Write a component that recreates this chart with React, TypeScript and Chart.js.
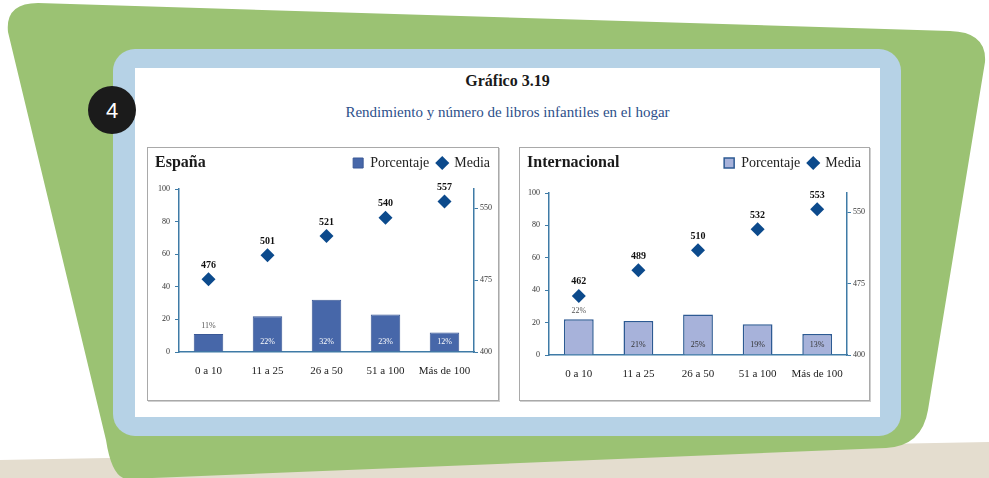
import React, { useEffect, useRef } from 'react';
import { Chart, registerables } from 'chart.js';

Chart.register(...registerables);

// ---- data ----
const categories = ['0 a 10', '11 a 25', '26 a 50', '51 a 100', 'Más de 100'];
const espanaPorcentaje = [11, 22, 32, 23, 12];
const espanaMedia = [476, 501, 521, 540, 557];
const internacionalPorcentaje = [22, 21, 25, 19, 13];
const internacionalMedia = [462, 489, 510, 532, 553];
const porcentajeTicks = [0, 20, 40, 60, 80, 100];
const mediaTicks = [400, 475, 550];
const porcentajeRange = [0, 100];
const mediaRange = [400, 570];
const seriesNames = ['Porcentaje', 'Media'];

const AXIS = '#3f7ba6';
const MARKER = '#0c4a8c';
const SERIF = "'Liberation Serif', 'Times New Roman', serif";

const valueLabels = {
  id: 'valueLabels',
  afterDatasetsDraw(chart: any, _args: any, opts: any) {
    const ctx = chart.ctx;
    ctx.save();
    ctx.textAlign = 'center';
    ctx.textBaseline = 'middle';
    const barMeta = chart.getDatasetMeta(0);
    const barData = chart.data.datasets[0].data;
    ctx.font = `8px ${SERIF}`;
    barMeta.data.forEach((el: any, i: number) => {
      const { x, y, base } = el.getProps(['x', 'y', 'base'], true);
      const outside = i === 0;
      ctx.fillStyle = outside ? '#555' : opts.insideColor;
      ctx.fillText(`${barData[i]}%`, x, outside ? y - 8 : base - 10);
    });
    const lineMeta = chart.getDatasetMeta(1);
    const lineData = chart.data.datasets[1].data;
    ctx.font = `bold 10px ${SERIF}`;
    ctx.fillStyle = '#111';
    lineMeta.data.forEach((el: any, i: number) => {
      ctx.fillText(String(lineData[i]), el.x, el.y - 14);
    });
    ctx.restore();
  },
};

type PanelProps = {
  left: number;
  width: number;
  title: string;
  pct: number[];
  media: number[];
  barColor: string;
  barBorder: string;
  barBorderWidth: number;
  insideColor: string;
  leftW: number;
  rightW: number;
  gapH: number;
  xH: number;
};

const PANEL_TOP = 147;
const PANEL_INNER_H = 252;

function ChartPanel(p: PanelProps) {
  const ref = useRef<HTMLCanvasElement>(null);
  const innerW = p.width - 2;
  useEffect(() => {
    const chart = new Chart(ref.current as HTMLCanvasElement, {
      type: 'bar',
      data: {
        labels: categories,
        datasets: [
          {
            type: 'bar',
            label: seriesNames[0],
            data: p.pct,
            backgroundColor: p.barColor,
            borderColor: p.barBorder,
            borderWidth: p.barBorderWidth,
            barPercentage: 0.5,
            categoryPercentage: 1,
            yAxisID: 'y',
            xAxisID: 'x',
            pointStyle: 'rect',
          } as any,
          {
            type: 'line',
            label: seriesNames[1],
            data: p.media,
            showLine: false,
            pointStyle: 'rectRot',
            pointRadius: 7,
            pointHoverRadius: 7,
            backgroundColor: MARKER,
            borderColor: MARKER,
            pointBackgroundColor: MARKER,
            pointBorderColor: MARKER,
            pointBorderWidth: 0,
            yAxisID: 'y2',
            xAxisID: 'x',
          } as any,
        ],
      },
      options: {
        responsive: false,
        animation: false,
        devicePixelRatio: 1,
        layout: { padding: 0 },
        events: [],
        plugins: {
          legend: {
            position: 'top',
            align: 'end',
            labels: {
              usePointStyle: true,
              boxWidth: 10,
              boxHeight: 10,
              padding: 8,
              color: '#222',
              font: { family: SERIF, size: 14 },
            },
          },
          tooltip: { enabled: false },
          valueLabels: { insideColor: p.insideColor },
        } as any,
        scales: {
          x: {
            type: 'category',
            position: 'bottom',
            offset: true,
            grid: { display: false, drawTicks: false },
            border: { display: true, color: AXIS, width: 1.5 },
            ticks: {
              font: { family: SERIF, size: 11 },
              color: '#222',
              padding: 13,
              maxRotation: 0,
              autoSkip: false,
            },
            afterFit: (s: any) => {
              s.height = p.xH;
            },
          },
          gap: {
            type: 'category',
            axis: 'x',
            position: 'top',
            display: true,
            grid: { display: false, drawTicks: false },
            border: { display: false },
            ticks: { display: false },
            afterFit: (s: any) => {
              s.height = p.gapH;
            },
          } as any,
          y: {
            type: 'linear',
            position: 'left',
            min: porcentajeRange[0],
            max: porcentajeRange[1],
            afterBuildTicks: (s: any) => {
              s.ticks = porcentajeTicks.map((v) => ({ value: v }));
            },
            grid: { drawOnChartArea: false, drawTicks: true, tickLength: 4, color: AXIS, lineWidth: 1 },
            border: { color: AXIS, width: 1.5 },
            ticks: { font: { family: SERIF, size: 8 }, color: '#333', padding: 5 },
            afterFit: (s: any) => {
              s.width = p.leftW;
            },
          },
          y2: {
            type: 'linear',
            position: 'right',
            min: mediaRange[0],
            max: mediaRange[1],
            afterBuildTicks: (s: any) => {
              s.ticks = mediaTicks.map((v) => ({ value: v }));
            },
            grid: { drawOnChartArea: false, drawTicks: true, tickLength: 4, color: AXIS, lineWidth: 1 },
            border: { color: AXIS, width: 1.5 },
            ticks: { font: { family: SERIF, size: 8 }, color: '#333', padding: 2 },
            afterFit: (s: any) => {
              s.width = p.rightW;
            },
          },
        },
      } as any,
      plugins: [valueLabels as any],
    });
    return () => chart.destroy();
  }, []);

  return (
    <div
      style={{
        position: 'absolute',
        left: p.left,
        top: PANEL_TOP,
        width: p.width,
        height: PANEL_INNER_H + 2,
        boxSizing: 'border-box',
        border: '1px solid #a9a9a9',
        boxShadow: '1px 1px 0 #cfcfcf',
        background: '#fff',
      }}
    >
      <canvas ref={ref} width={innerW} height={PANEL_INNER_H} style={{ display: 'block' }} />
      <div
        style={{
          position: 'absolute',
          left: 7,
          top: 6,
          font: `bold 16px ${SERIF}`,
          lineHeight: '16px',
          color: '#1a1a1a',
        }}
      >
        {p.title}
      </div>
    </div>
  );
}

export default function App() {
  return (
    <div
      style={{
        position: 'absolute',
        left: 0,
        top: 0,
        width: 989,
        height: 478,
        overflow: 'hidden',
        background: '#fff',
      }}
    >
      <svg width={989} height={478} style={{ position: 'absolute', left: 0, top: 0 }}>
        <polygon points="0,460 989,442 989,478 0,478" fill="#e4ddcf" />
        <path
          d="M 8 32 Q 5 3 38 3 L 950 31 Q 987 32 985 62 L 928 410 Q 922 446 886 448 L 128 479 Q 112 479 106 440 L 8 32 Z"
          fill="#9bc273"
        />
        <rect x={113} y={49} width={788} height={387} rx={22} fill="#b6d2e6" />
        <rect x={135} y={68} width={745} height={349} fill="#ffffff" />
        <circle cx={112} cy={110} r={24} fill="#1b1b1b" />
        <text
          x={112}
          y={118}
          textAnchor="middle"
          fill="#ffffff"
          fontFamily="'Liberation Sans', Arial, sans-serif"
          fontSize={22}
        >
          4
        </text>
      </svg>
      <div
        style={{
          position: 'absolute',
          left: 135,
          top: 72,
          width: 745,
          textAlign: 'center',
          font: `bold 16px ${SERIF}`,
          lineHeight: '18px',
          color: '#1a1a1a',
        }}
      >
        Gráfico 3.19
      </div>
      <div
        style={{
          position: 'absolute',
          left: 135,
          top: 103,
          width: 745,
          textAlign: 'center',
          font: `15px ${SERIF}`,
          lineHeight: '18px',
          color: '#2d4f8a',
        }}
      >
        Rendimiento y número de libros infantiles en el hogar
      </div>
      <ChartPanel
        left={147}
        width={352}
        title="España"
        pct={espanaPorcentaje}
        media={espanaMedia}
        barColor="#4767a9"
        barBorder="#3a5896"
        barBorderWidth={1}
        insideColor="#ffffff"
        leftW={31}
        rightW={24}
        gapH={9}
        xH={48}
      />
      <ChartPanel
        left={519}
        width={351}
        title="Internacional"
        pct={internacionalPorcentaje}
        media={internacionalMedia}
        barColor="#a7b2da"
        barBorder="#2d5a93"
        barBorderWidth={1.5}
        insideColor="#333333"
        leftW={29}
        rightW={22}
        gapH={13}
        xH={45}
      />
    </div>
  );
}
